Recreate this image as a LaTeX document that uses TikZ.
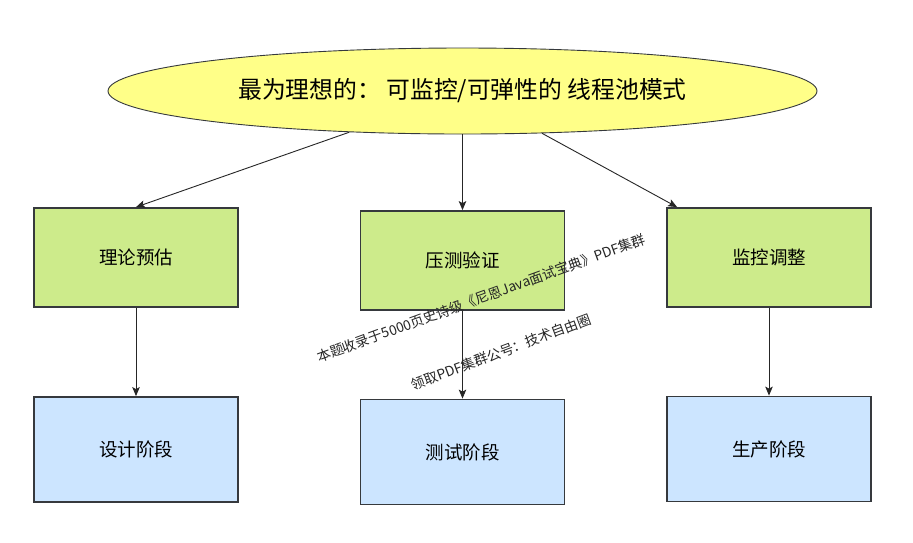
\documentclass[tikz,border=0pt]{standalone}
\usepackage{fontspec}
\setmainfont{Noto Sans CJK SC}
\usetikzlibrary{shapes.geometric,arrows.meta,calc}
\definecolor{bord}{HTML}{36393D}
\definecolor{greenf}{HTML}{CDEB8B}
\definecolor{bluef}{HTML}{CCE5FF}
\definecolor{yellowf}{HTML}{FFFF88}
\tikzset{
  box/.style={draw=bord,line width=1.8pt,rectangle,inner sep=0pt,minimum width=204pt,font=\fontsize{18.5}{20}\selectfont},
  greenbox/.style={box,fill=greenf,minimum height=99pt},
  bluebox/.style={box,fill=bluef,minimum height=105pt},
  conn/.style={draw=black!85,line width=0.9pt,-{Stealth[length=9pt,width=7.5pt,inset=2pt]}},
  wm/.style={font=\fontsize{13.8}{15}\selectfont,text=black!85,inner sep=0pt}
}
\begin{document}
\begin{tikzpicture}[x=1pt,y=-1pt]
\useasboundingbox (0,0) rectangle (913,542);
\fill[white] (0,0) rectangle (913,542);
\node[ellipse,draw=bord,line width=0.9pt,fill=yellowf,minimum width=709pt,minimum height=86pt,inner sep=0pt,font=\fontsize{23.8}{26}\selectfont] (top) at (462.5,91) {最为理想的： 可监控/可弹性的 线程池模式};
\node[greenbox] (b1) at (136,257.5) {理论预估};
\node[greenbox] (b2) at (462.5,260.5) {压测验证};
\node[greenbox] (b3) at (769,257.5) {监控调整};
\node[bluebox] (c1) at (136,449.5) {设计阶段};
\node[bluebox] (c2) at (462.5,452) {测试阶段};
\node[bluebox] (c3) at (769,449) {生产阶段};
\coordinate (b3in) at ($(b3.north west)+(11,0)$);
\draw[conn] (top.200) -- (b1.north);
\draw[conn] (top.south) -- (b2.north);
\draw[conn] (top.332) -- (b3in);
\draw[conn] (b1.south) -- (c1.north);
\draw[conn] (b2.south) -- (c2.north);
\draw[conn] (b3.south) -- (c3.north);
\node[wm,rotate=20] (w1) at (481,298) {本题收录于5000页史诗级《尼恩Java面试宝典》PDF集群};
\node[wm,rotate=20.5] (w2) at (501,352) {领取PDF集群公号：技术自由圈};
\end{tikzpicture}
\end{document}
